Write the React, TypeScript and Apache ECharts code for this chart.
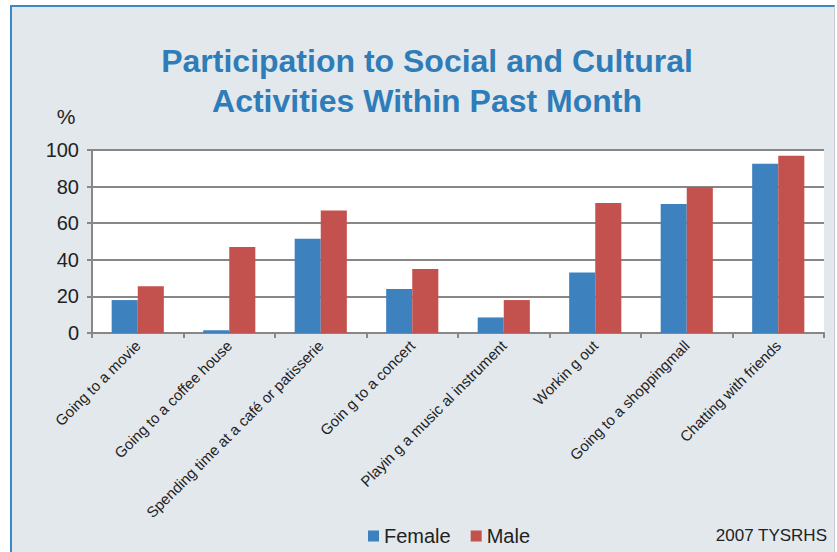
import React, { useEffect, useRef } from "react";
import * as echarts from "echarts";

const categories = [
  "Going to a movie",
  "Going to a coffee house",
  "Spending time at a café or patisserie",
  "Goin g to a concert",
  "Playin g a music al instrument",
  "Workin g out",
  "Going to a shoppingmall",
  "Chatting with friends",
];
const female = [18, 1.5, 51.5, 24, 8.5, 33, 70.5, 92.5];
const male = [25.5, 47, 67, 35, 18, 71, 79.8, 96.8];
const yTicks = { min: 0, max: 100, interval: 20 };
const titleLines = ["Participation to Social and Cultural", "Activities Within Past Month"];

export default function App() {
  const ref = useRef<HTMLDivElement>(null);
  useEffect(() => {
    document.body.style.margin = "0";
    const chart = echarts.init(ref.current!, undefined, { renderer: "svg" });
    const grey = "#878787";
    chart.setOption({
      animation: false,
      textStyle: { fontFamily: "Liberation Sans, Arial, sans-serif" },
      graphic: [
        {
          type: "text",
          x: 427,
          y: 61,
          style: {
            text: titleLines[0],
            font: "bold 32px 'Liberation Sans', Arial, sans-serif",
            fill: "#2E7DB8",
            textAlign: "center",
            textVerticalAlign: "middle",
          },
        },
        {
          type: "text",
          x: 427,
          y: 101,
          style: {
            text: titleLines[1],
            font: "bold 32px 'Liberation Sans', Arial, sans-serif",
            fill: "#2E7DB8",
            textAlign: "center",
            textVerticalAlign: "middle",
          },
        },
        {
          type: "text",
          x: 66,
          y: 116,
          style: {
            text: "%",
            font: "21px 'Liberation Sans', Arial, sans-serif",
            fill: "#222",
            textAlign: "center",
            textVerticalAlign: "middle",
          },
        },
        {
          type: "text",
          x: 827,
          y: 535,
          style: {
            text: "2007 TYSRHS",
            font: "17px 'Liberation Sans', Arial, sans-serif",
            fill: "#222",
            textAlign: "right",
            textVerticalAlign: "middle",
          },
        },
      ],
      legend: {
        left: 363,
        top: 521,
        icon: "rect",
        itemWidth: 11,
        itemHeight: 11,
        itemGap: 20,
        textStyle: { fontSize: 20, color: "#222", fontFamily: "Liberation Sans, Arial, sans-serif" },
        data: ["Female", "Male"],
      },
      grid: {
        left: 92,
        right: 13,
        top: 150,
        bottom: 219,
        show: true,
        backgroundColor: "#ffffff",
        borderWidth: 0,
      },
      xAxis: {
        type: "category",
        data: categories,
        axisLine: { lineStyle: { color: grey, width: 2 } },
        axisTick: { show: true, length: 5, lineStyle: { color: grey, width: 2 } },
        axisLabel: {
          interval: 0,
          rotate: 45,
          fontSize: 15,
          color: "#222",
          margin: 10,
          fontFamily: "Liberation Sans, Arial, sans-serif",
        },
      },
      yAxis: {
        type: "value",
        min: yTicks.min,
        max: yTicks.max,
        interval: yTicks.interval,
        axisLine: { show: true, lineStyle: { color: grey, width: 2 } },
        axisTick: { show: true, length: 5, lineStyle: { color: grey, width: 2 } },
        splitLine: { show: true, lineStyle: { color: grey, width: 2 } },
        axisLabel: {
          fontSize: 20,
          color: "#222",
          margin: 13,
          fontFamily: "Liberation Sans, Arial, sans-serif",
        },
      },
      series: [
        {
          name: "Female",
          type: "bar",
          data: female,
          barGap: "0%",
          barCategoryGap: "43%",
          itemStyle: { color: "#3D81BE" },
        },
        {
          name: "Male",
          type: "bar",
          data: male,
          barGap: "0%",
          barCategoryGap: "43%",
          itemStyle: { color: "#C3524E" },
        },
      ],
    });
    return () => chart.dispose();
  }, []);

  return (
    <div style={{ position: "relative", width: 837, height: 552, background: "#ffffff", overflow: "hidden" }}>
      <div
        style={{
          position: "absolute",
          left: 10,
          top: 5,
          width: 837 - 10 - 2,
          height: 552 - 5,
          background: "#E3E8ED",
          borderTop: "2px solid #3B88C8",
          borderLeft: "2px solid #3B88C8",
          borderRight: "1px solid #C9CDD2",
          boxSizing: "border-box",
        }}
      />
      <div ref={ref} style={{ position: "absolute", left: 0, top: 0, width: 837, height: 552 }} />
    </div>
  );
}
